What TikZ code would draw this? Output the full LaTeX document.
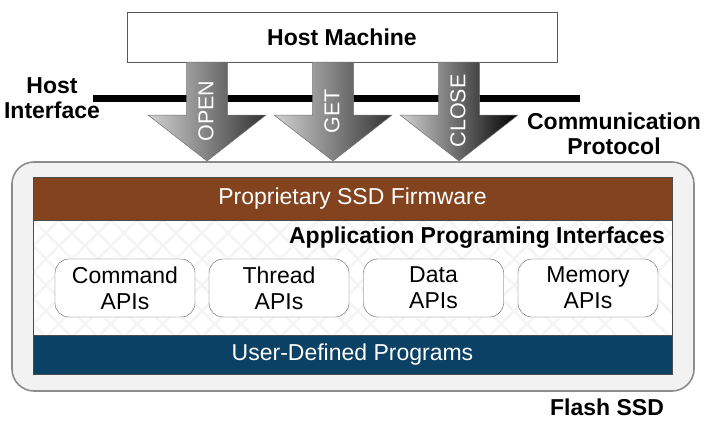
\documentclass[tikz,border=0pt]{standalone}
\usepackage{fontspec}
\setmainfont{Liberation Sans}
\usetikzlibrary{shapes}

\newcommand{\txtsize}{\fontsize{23}{26}\selectfont}
\newcommand{\cmdsize}{\fontsize{21.5}{26}\selectfont}

\definecolor{firmbrown}{RGB}{131,67,31}
\definecolor{progblue}{RGB}{10,65,100}

\begin{document}
\begin{tikzpicture}[x=1pt,y=-1pt]
\tikzstyle{tag} = [font=\txtsize\bfseries, align=center, inner sep=0pt]
\tikzstyle{bar} = [rectangle, minimum width=639pt, draw=black!70, text=white, font=\txtsize, inner sep=0pt]
\tikzstyle{api} = [rectangle, rounded corners=14pt, draw=black!65, fill=white, minimum width=140pt, minimum height=58pt, align=center, font=\txtsize, inner sep=0pt]
\tikzstyle{cmd text} = [text=white, font=\cmdsize, rotate=90, inner sep=0pt]

\useasboundingbox (0,0) rectangle (720,421);

% flash ssd frame
\node[rectangle, rounded corners=22pt, fill=black!5, draw=black!45, line width=1.6pt, minimum width=682pt, minimum height=229pt] (ssd) at (353,276.5) {};
\node[rectangle, fill=white, minimum width=639pt, minimum height=115pt] (apiarea) at (352.5,277.5) {};
\begin{scope}
\clip (33,220) rectangle (672,335);
\foreach \k in {-6,...,26} {
  \draw[black!4, line width=2.5pt] (33+\k*26,220) -- ++(115,115);
  \draw[black!4, line width=2.5pt] (33+\k*26,220) -- ++(-115,115);
}
\end{scope}
\draw[black!70, line width=0.6pt] (33,177) rectangle (672,374);

\node[bar, fill=firmbrown, minimum height=43pt] (firmware) at (352.5,198.5) {Proprietary SSD Firmware};
\node[bar, fill=progblue, minimum height=39pt] (programs) at (352.5,354.5) {User-Defined Programs};
\node[tag] (apis) at (477,238) {Application Programing Interfaces};

\node[api] (command) at (125,288) {Command\\APIs};
\node[api] (thread) at (279,288) {Thread\\APIs};
\node[api] (data) at (433.5,288) {Data\\APIs};
\node[api] (memory) at (588,288) {Memory\\APIs};

\node[tag] (flash) at (607,407) {Flash SSD};

% host side
\coordinate (if-left) at (93,98.5);
\coordinate (if-right) at (580,98.5);
\draw[black, line width=7pt] (if-left) -- (if-right);
\node[tag] (hostif) at (52,98.5) {Host\\[-1pt]Interface};
\node[tag] (protocol) at (614,134) {Communication\\[-1pt]Protocol};

\node[rectangle, draw=black!65, fill=white, line width=0.6pt, minimum width=430pt, minimum height=50pt, font=\txtsize\bfseries] (host) at (342,37) {Host Machine};

% commands
\foreach \cx/\word/\dark in {207/OPEN/black!80, 333/GET/black!80, 459/CLOSE/black} {
  \path[left color=black!18, right color=\dark, draw=black!55, line width=0.5pt]
    (\cx-20.5,62) -- (\cx+20.5,62) -- (\cx+20.5,115) -- (\cx+59,115) -- (\cx,161)
    -- (\cx-59,115) -- (\cx-20.5,115) -- cycle;
  \node[cmd text] (cmd-\word) at (\cx-1,111) {\word};
}
\end{tikzpicture}
\end{document}
